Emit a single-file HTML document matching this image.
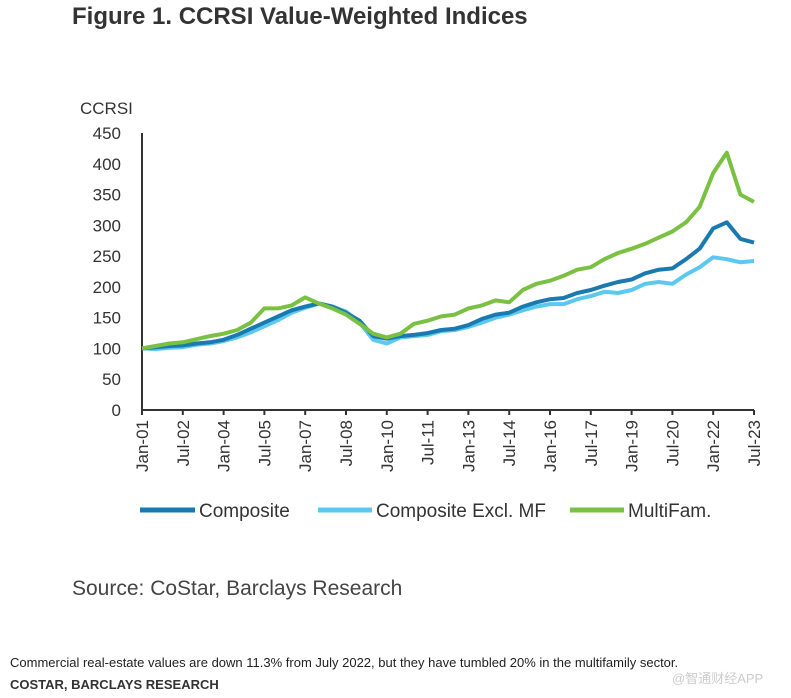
<!DOCTYPE html>
<html><head><meta charset="utf-8"><style>
body{margin:0;background:#fff;width:791px;height:698px;overflow:hidden;font-family:"Liberation Sans","Noto Sans CJK SC",sans-serif;}
</style></head><body>
<svg id="chart" width="791" height="698" style="position:absolute;left:0;top:0">
<text x="72" y="24" font-size="24" font-weight="bold" fill="#333">Figure 1. CCRSI Value-Weighted Indices</text>
<text x="80" y="114" font-size="17" fill="#333">CCRSI</text>
<g id="axes"></g>
<g id="series"></g>
<g>
<line x1="140" y1="510" x2="195" y2="510" stroke="#1a7ab0" stroke-width="5"/>
<text x="199" y="517" font-size="19" fill="#333">Composite</text>
<line x1="318" y1="510" x2="372" y2="510" stroke="#5bc8f0" stroke-width="5"/>
<text x="376" y="517" font-size="19" fill="#333">Composite Excl. MF</text>
<line x1="570" y1="510" x2="624" y2="510" stroke="#7ac143" stroke-width="5"/>
<text x="628" y="517" font-size="19" fill="#333">MultiFam.</text>
</g>
<text x="72" y="595" font-size="21" fill="#444">Source: CoStar, Barclays Research</text>
<text x="10" y="667" font-size="13" fill="#222">Commercial real-estate values are down 11.3% from July 2022, but they have tumbled 20% in the multifamily sector.</text>
<text x="10" y="689" font-size="13" font-weight="bold" fill="#333">COSTAR, BARCLAYS RESEARCH</text>
<text x="672" y="683" font-size="13" fill="#ccc">@智通财经APP</text>
</svg>
<script>
const tickLabels=["Jan-01","Jul-02","Jan-04","Jul-05","Jan-07","Jul-08","Jan-10","Jul-11","Jan-13","Jul-14","Jan-16","Jul-17","Jan-19","Jul-20","Jan-22","Jul-23"];
const yTicks=[0,50,100,150,200,250,300,350,400,450];
// semiannual Jan-01 .. Jul-23
const composite=[100,102,104,105,108,110,114,122,132,142,152,162,168,173,168,158,145,120,116,120,122,125,130,132,138,148,155,158,168,175,180,182,190,195,202,208,212,222,228,230,245,262,295,305,278,272];
const exclMF=[100,99,101,102,106,108,112,118,126,136,146,158,166,173,168,160,142,114,108,118,120,122,128,130,135,142,150,155,162,168,172,172,180,185,192,190,195,205,208,205,220,232,248,245,240,242];
const multiFam=[100,104,108,110,115,120,124,130,142,165,165,170,183,173,165,155,140,124,118,124,140,145,152,155,165,170,178,175,195,205,210,218,228,232,245,255,262,270,280,290,305,330,385,418,350,338];
const N=46;
const X0=142,X1=754,Y0=410,Y1=133;
function xs(i){return X0+(X1-X0)*i/45;}
function ys(v){return Y0-(Y0-Y1)*v/450;}
const NS="http://www.w3.org/2000/svg";
const axes=document.getElementById('axes');
function mk(tag,attrs,parent){const e=document.createElementNS(NS,tag);for(const k in attrs)e.setAttribute(k,attrs[k]);parent.appendChild(e);return e;}
let yl=mk('line',{x1:X0,y1:Y1,x2:X0,y2:Y0,stroke:'#333','stroke-width':2},axes);


let xl=mk('line',{x1:X0,y1:Y0,x2:X1,y2:Y0,stroke:'#333','stroke-width':2},axes);


yTicks.forEach(v=>{
 const t=mk('text',{x:121,y:ys(v)+6,'font-size':17,fill:'#333','text-anchor':'end'},axes);t.textContent=v;
 
 
});
tickLabels.forEach((lab,k)=>{
 const x=xs(k*3);
 const tk=mk('line',{x1:x,y1:Y0,x2:x,y2:Y0+5,stroke:'#333','stroke-width':2},axes);
 
 
 const t=mk('text',{x:0,y:0,'font-size':17,fill:'#333','text-anchor':'end',transform:`translate(${x+6},${Y0+10}) rotate(-90)`},axes);t.textContent=lab;
 
 
});
const ser=document.getElementById('series');
[[exclMF,'#5bc8f0','line-composite-excl-mf'],[composite,'#1a7ab0','line-composite'],[multiFam,'#7ac143','line-multifam']].forEach(([d,c,n])=>{
 const pts=d.slice(0,N).map((v,i)=>xs(i).toFixed(1)+','+ys(v).toFixed(1)).join(' ');
 const p=mk('polyline',{points:pts,fill:'none',stroke:c,'stroke-width':4,'stroke-linejoin':'round'},ser);
 
 
});
</script>
</body></html>
